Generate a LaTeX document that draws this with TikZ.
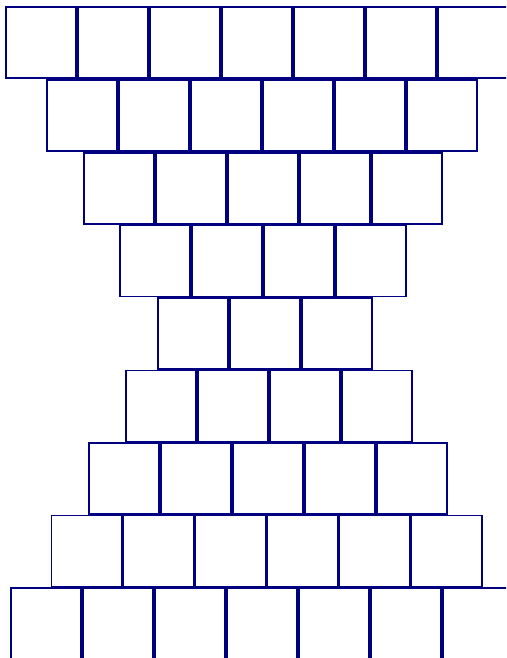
\documentclass[tikz,border=0pt]{standalone}
\usetikzlibrary{positioning}
\definecolor{tilenavy}{RGB}{0,0,128}
\begin{document}
\begin{tikzpicture}[x=1pt, y=-1pt]
    % 基础尺寸
    \def\pitch{72}
    \def\tw{70.4}
    \def\th{71}
    \tikzset{tile/.style={draw=tilenavy, line width=1.6pt}}
    \useasboundingbox (0,0) rectangle (506,658);
    \clip (0,0) rectangle (506,658);

    % --- 每行：左端 / 顶端 / 块数 ---
    \foreach \lx/\ty/\n in {5.8/6.8/7, 46.8/79.8/6, 83.8/152.8/5, 119.8/225.3/4, 157.8/297.8/3,
                            125.8/370.3/4, 88.8/442.8/5, 51.3/515.3/6, 10.8/587.8/7}{
      \foreach \i in {1,...,\n}{
        \draw[tile] ({\lx+(\i-1)*\pitch}, \ty) rectangle ++(\tw, \th);
      }
    }
\end{tikzpicture}
\end{document}
